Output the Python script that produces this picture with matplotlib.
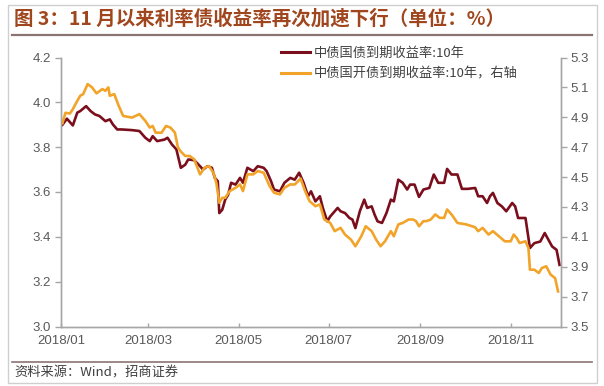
import matplotlib
matplotlib.use("Agg")
import matplotlib.pyplot as plt
import matplotlib.dates as mdates
from matplotlib.lines import Line2D
from matplotlib.patches import Rectangle
import pandas as pd

plt.rcParams['font.family'] = ['Noto Sans CJK SC', 'DejaVu Sans']

# 中债国债到期收益率:10年 (left axis)
gov_dates = [
    "2018-01-02", "2018-01-05", "2018-01-09", "2018-01-12", "2018-01-14", "2018-01-18",
    "2018-01-21", "2018-01-24", "2018-01-27", "2018-01-31", "2018-02-03", "2018-02-05",
    "2018-02-08", "2018-02-11", "2018-02-18", "2018-02-23", "2018-02-27", "2018-03-02",
    "2018-03-04", "2018-03-07", "2018-03-12", "2018-03-14", "2018-03-17", "2018-03-20",
    "2018-03-23", "2018-03-26", "2018-03-28", "2018-04-01", "2018-04-05", "2018-04-07",
    "2018-04-10", "2018-04-13", "2018-04-15", "2018-04-17", "2018-04-18", "2018-04-20",
    "2018-04-22", "2018-04-24", "2018-04-26", "2018-04-29", "2018-05-02", "2018-05-04",
    "2018-05-07", "2018-05-11", "2018-05-14", "2018-05-18", "2018-05-20", "2018-05-23",
    "2018-05-25", "2018-05-29", "2018-06-01", "2018-06-05", "2018-06-08", "2018-06-11",
    "2018-06-14", "2018-06-17", "2018-06-19", "2018-06-22", "2018-06-25", "2018-06-27",
    "2018-06-30", "2018-07-02", "2018-07-04", "2018-07-07", "2018-07-09", "2018-07-12",
    "2018-07-15", "2018-07-17", "2018-07-19", "2018-07-22", "2018-07-25", "2018-07-27",
    "2018-07-30", "2018-08-01", "2018-08-03", "2018-08-06", "2018-08-09", "2018-08-12",
    "2018-08-14", "2018-08-17", "2018-08-20", "2018-08-23", "2018-08-25", "2018-08-28",
    "2018-08-31", "2018-09-03", "2018-09-07", "2018-09-10", "2018-09-13", "2018-09-17",
    "2018-09-19", "2018-09-22", "2018-09-26", "2018-09-29", "2018-10-03", "2018-10-08",
    "2018-10-10", "2018-10-13", "2018-10-16", "2018-10-18", "2018-10-20", "2018-10-23",
    "2018-10-26", "2018-10-29", "2018-11-02", "2018-11-04", "2018-11-06", "2018-11-11",
    "2018-11-14", "2018-11-17", "2018-11-21", "2018-11-24", "2018-11-29", "2018-12-02",
    "2018-12-04",
]
gov_yield = [
    3.90, 3.927, 3.897, 3.954, 3.961, 3.983, 3.961, 3.946, 3.939, 3.916, 3.924, 3.902,
    3.879, 3.879, 3.876, 3.872, 3.842, 3.827, 3.849, 3.827, 3.834, 3.842, 3.812, 3.790,
    3.708, 3.722, 3.745, 3.742, 3.715, 3.700, 3.715, 3.708, 3.663, 3.648, 3.506, 3.521,
    3.566, 3.588, 3.641, 3.633, 3.663, 3.641, 3.708, 3.693, 3.715, 3.708, 3.693, 3.648,
    3.611, 3.603, 3.641, 3.663, 3.655, 3.686, 3.641, 3.581, 3.603, 3.558, 3.581, 3.529,
    3.469, 3.491, 3.506, 3.529, 3.514, 3.506, 3.484, 3.477, 3.439, 3.514, 3.566, 3.529,
    3.536, 3.499, 3.469, 3.462, 3.506, 3.566, 3.558, 3.655, 3.641, 3.611, 3.633, 3.633,
    3.578, 3.611, 3.618, 3.678, 3.641, 3.641, 3.703, 3.678, 3.678, 3.614, 3.614, 3.618,
    3.581, 3.581, 3.551, 3.581, 3.596, 3.551, 3.536, 3.514, 3.551, 3.536, 3.484, 3.484,
    3.350, 3.372, 3.379, 3.417, 3.357, 3.342, 3.275,
]

# 中债国开债到期收益率:10年 (right axis)
cdb_dates = [
    "2018-01-02", "2018-01-04", "2018-01-07", "2018-01-09", "2018-01-12", "2018-01-14",
    "2018-01-16", "2018-01-19", "2018-01-22", "2018-01-25", "2018-01-29", "2018-01-31",
    "2018-02-02", "2018-02-03", "2018-02-06", "2018-02-09", "2018-02-12", "2018-02-18",
    "2018-02-23", "2018-02-27", "2018-03-02", "2018-03-04", "2018-03-06", "2018-03-10",
    "2018-03-13", "2018-03-16", "2018-03-19", "2018-03-21", "2018-03-23", "2018-03-26",
    "2018-03-29", "2018-04-01", "2018-04-05", "2018-04-08", "2018-04-11", "2018-04-14",
    "2018-04-16", "2018-04-18", "2018-04-20", "2018-04-22", "2018-04-25", "2018-04-29",
    "2018-05-02", "2018-05-04", "2018-05-07", "2018-05-11", "2018-05-14", "2018-05-18",
    "2018-05-22", "2018-05-25", "2018-05-29", "2018-06-01", "2018-06-05", "2018-06-08",
    "2018-06-12", "2018-06-15", "2018-06-18", "2018-06-22", "2018-06-25", "2018-06-28",
    "2018-07-02", "2018-07-05", "2018-07-09", "2018-07-12", "2018-07-16", "2018-07-19",
    "2018-07-23", "2018-07-26", "2018-07-30", "2018-08-02", "2018-08-05", "2018-08-08",
    "2018-08-12", "2018-08-14", "2018-08-17", "2018-08-20", "2018-08-24", "2018-08-27",
    "2018-08-29", "2018-08-31", "2018-09-03", "2018-09-05", "2018-09-08", "2018-09-11",
    "2018-09-14", "2018-09-17", "2018-09-19", "2018-09-22", "2018-09-26", "2018-10-02",
    "2018-10-08", "2018-10-10", "2018-10-13", "2018-10-17", "2018-10-20", "2018-10-24",
    "2018-10-28", "2018-11-01", "2018-11-03", "2018-11-05", "2018-11-07", "2018-11-11",
    "2018-11-13", "2018-11-14", "2018-11-17", "2018-11-20", "2018-11-22", "2018-11-25",
    "2018-11-28", "2018-12-01", "2018-12-03",
]
cdb_yield = [
    4.86, 4.93, 4.925, 4.954, 5.01, 5.044, 5.055, 5.122, 5.10, 5.06, 5.089, 5.077,
    5.10, 5.044, 5.055, 4.977, 4.909, 4.898, 4.921, 4.876, 4.831, 4.842, 4.797, 4.797,
    4.842, 4.831, 4.797, 4.70, 4.67, 4.641, 4.641, 4.619, 4.518, 4.562, 4.574, 4.529,
    4.462, 4.328, 4.361, 4.361, 4.406, 4.428, 4.451, 4.406, 4.518, 4.518, 4.540, 4.529,
    4.44, 4.395, 4.384, 4.428, 4.451, 4.45, 4.49, 4.406, 4.339, 4.305, 4.317, 4.216,
    4.193, 4.138, 4.160, 4.115, 4.082, 4.037, 4.104, 4.171, 4.138, 4.082, 4.037, 4.070,
    4.138, 4.104, 4.183, 4.193, 4.216, 4.216, 4.205, 4.171, 4.205, 4.205, 4.216, 4.25,
    4.227, 4.227, 4.283, 4.25, 4.193, 4.183, 4.164, 4.138, 4.160, 4.115, 4.138, 4.104,
    4.070, 4.070, 4.115, 4.093, 4.059, 4.070, 4.025, 3.880, 3.880, 3.858, 3.891, 3.903,
    3.847, 3.824, 3.735,
]

tick_months = ["2018-01-01", "2018-03-01", "2018-05-01", "2018-07-01", "2018-09-01", "2018-11-01"]
left_ticks = [3.0, 3.2, 3.4, 3.6, 3.8, 4.0, 4.2]
right_ticks = [3.5, 3.7, 3.9, 4.1, 4.3, 4.5, 4.7, 4.9, 5.1, 5.3]

gov_label = "中债国债到期收益率:10年"
cdb_label = "中债国开债到期收益率:10年，右轴"
title = "图 3：11 月以来利率债收益率再次加速下行（单位：%）"
source = "资料来源：Wind，招商证券"

RED = "#7A0E1C"
ORANGE = "#F2A42A"
AXIS = "#A6A6A6"
TXT = "#595959"

fig = plt.figure(figsize=(6.04, 3.86), dpi=100)
ax = fig.add_axes([61 / 604, 1 - 326.5 / 386, 500 / 604, 269 / 386])
ax2 = ax.twinx()

ax.plot(pd.to_datetime(gov_dates), gov_yield, color=RED, lw=1.9, label=gov_label)
ax2.plot(pd.to_datetime(cdb_dates), cdb_yield, color=ORANGE, lw=1.9, label=cdb_label)

ax.set_xlim(pd.Timestamp("2018-01-01"), pd.Timestamp("2018-12-05"))
ax.set_ylim(3.0, 4.2)
ax2.set_ylim(3.5, 5.3)
ax.set_yticks(left_ticks)
ax2.set_yticks(right_ticks)
ax.set_yticklabels([f"{v:.1f}" for v in left_ticks])
ax2.set_yticklabels([f"{v:.1f}" for v in right_ticks])
ax.set_xticks(pd.to_datetime(tick_months))
ax.xaxis.set_major_formatter(mdates.DateFormatter("%Y/%m"))

for a in (ax, ax2):
    a.spines["top"].set_visible(False)
    for s in ("left", "right", "bottom"):
        a.spines[s].set_color(AXIS)
        a.spines[s].set_linewidth(1.0)
    a.tick_params(colors=AXIS, labelcolor=TXT, labelsize=9.5, length=4, width=1.0)
    for lbl in a.get_yticklabels() + a.get_xticklabels():
        lbl.set_family("Liberation Sans")
ax.tick_params(axis="x", direction="in", length=3, pad=6)
ax.tick_params(axis="y", pad=3)
ax2.tick_params(axis="y", pad=3)

handles = [Line2D([], [], color=RED, lw=2.2), Line2D([], [], color=ORANGE, lw=2.2)]
fig.legend(handles, [gov_label, cdb_label], loc="upper left",
           bbox_to_anchor=(281 / 604, 1 - 47 / 386), frameon=False,
           fontsize=9.5, handlelength=2.2, handletextpad=0.3, labelspacing=0.55,
           labelcolor="#404040", borderaxespad=0, borderpad=0)

# frame, title and source
fig.add_artist(Rectangle((8 / 604, 1 - 383 / 386), 589 / 604, 378 / 386,
                         transform=fig.transFigure, fill=False, ec="#CFCFCF", lw=1.0))
fig.text(14 / 604, 1 - 19 / 386, title, fontsize=14, fontweight="bold",
         color="#A0461E", va="center", ha="left")
fig.add_artist(Line2D([12 / 604, 592 / 604], [1 - 35 / 386, 1 - 35 / 386],
                      transform=fig.transFigure, color="#8C7373", lw=1.6))
fig.add_artist(Line2D([12 / 604, 592 / 604], [1 - 362 / 386, 1 - 362 / 386],
                      transform=fig.transFigure, color="#8C7373", lw=1.2))
fig.text(14 / 604, 1 - 373 / 386, source, fontsize=9.5, color="#404040",
         va="center", ha="left")

fig.savefig("out.png", dpi=100)
